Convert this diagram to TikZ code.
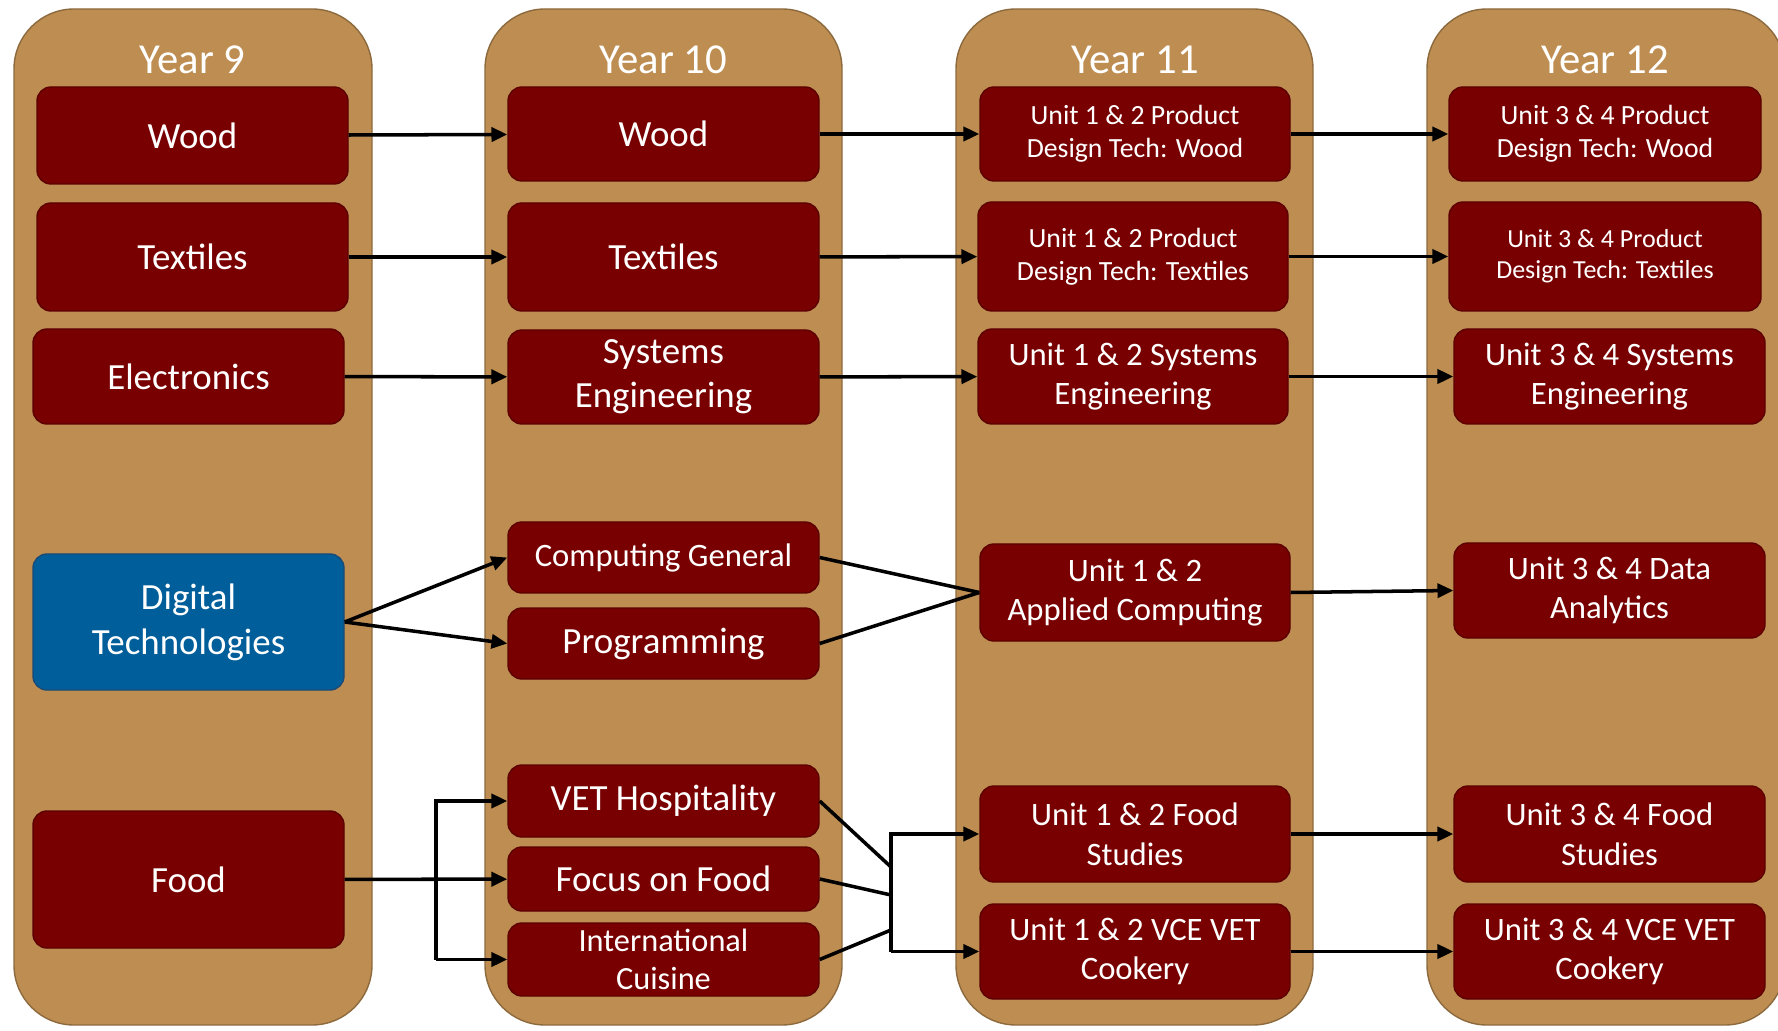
\documentclass[tikz,border=0pt]{standalone}
\usepackage{fontspec}
\setmainfont{Carlito}
\usepackage{tikz}
\usetikzlibrary{arrows.meta}

\definecolor{yearbg}{RGB}{190,141,82}
\definecolor{yearedge}{RGB}{140,106,62}
\definecolor{subj}{RGB}{120,0,0}
\definecolor{subjedge}{RGB}{92,0,0}
\definecolor{digi}{RGB}{0,94,154}
\definecolor{digiedge}{RGB}{26,74,118}

\tikzset{
  yearcol/.style={fill=yearbg, draw=yearedge, line width=0.8pt, rounded corners=1.2cm},
  yeartitle/.style={text=white, font=\fontsize{24.3}{28}\selectfont, anchor=base},
  subject/.style={draw=subjedge, fill=subj, line width=0.8pt, rounded corners=0.28cm,
    text=white, align=center, inner sep=0pt, minimum width=6.22cm},
  bigtext/.style={font=\fontsize{21}{25}\selectfont},
  midtext/.style={font=\fontsize{18.6}{22.6}\selectfont},
  smalltext/.style={font=\fontsize{15.8}{19}\selectfont},
  link/.style={line width=2pt},
  arr/.style={link, -{Triangle[length=9pt,width=8pt]}},
}

\begin{document}
\begin{tikzpicture}
\useasboundingbox (0,0) rectangle (35.56,20.6);
\clip (0,0) rectangle (35.56,20.6);

\draw[yearcol] (0.28,0.10) rectangle (7.44,20.42);
\draw[yearcol] (9.70,0.10) rectangle (16.84,20.42);
\draw[yearcol] (19.12,0.10) rectangle (26.26,20.42);
\draw[yearcol] (28.54,0.10) rectangle (35.70,20.42);

\node[yeartitle] (y9) at (3.85,19.12) {Year 9};
\node[yeartitle] (y10) at (13.27,19.12) {Year 10};
\node[yeartitle] (y11) at (22.70,19.12) {Year 11};
\node[yeartitle] (y12) at (32.10,19.12) {Year 12};

% year 9
\node[subject, bigtext, minimum height=1.94cm] (wood9) at (3.85,17.89) {Wood};
\node[subject, bigtext, minimum height=2.16cm] (tex9) at (3.85,15.46) {Textiles};
\node[subject, bigtext, minimum height=1.90cm] (elec9) at (3.77,13.07) {Electronics};
\node[subject, minimum height=2.72cm, fill=digi, draw=digiedge,
  font=\fontsize{21}{25.5}\selectfont] (digi9) at (3.77,8.16) {Digital\\Technologies};
\node[subject, bigtext, minimum height=2.74cm] (food9) at (3.77,3.01) {Food};

% year 10
\node[subject, bigtext, minimum height=1.88cm] (wood10) at (13.27,17.92) {Wood};
\node[subject, bigtext, minimum height=2.16cm] (tex10) at (13.27,15.46) {Textiles};
\node[subject, bigtext, minimum height=1.88cm] (sys10) at (13.27,13.06) {Systems\\Engineering};
\node[subject, font=\fontsize{18.6}{22}\selectfont, minimum height=1.42cm] (comp10) at (13.27,9.45) {Computing General};
\node[subject, bigtext, minimum height=1.42cm] (prog10) at (13.27,7.73) {Programming};
\node[subject, bigtext, minimum height=1.44cm] (vet10) at (13.27,4.58) {VET Hospitality};
\node[subject, bigtext, minimum height=1.28cm] (focus10) at (13.27,3.02) {Focus on Food};
\node[subject, font=\fontsize{18.4}{22}\selectfont, minimum height=1.46cm] (intl10) at (13.27,1.41) {International\\Cuisine};

% year 11
\node[subject, smalltext, minimum width=6.20cm, minimum height=1.88cm] (wood11) at (22.70,17.92) {Unit 1 \& 2 Product\\Design Tech: Wood};
\node[subject, smalltext, minimum width=6.20cm, minimum height=2.18cm] (tex11) at (22.66,15.47) {Unit 1 \& 2 Product\\Design Tech: Textiles};
\node[subject, midtext, minimum width=6.20cm, minimum height=1.90cm] (sys11) at (22.66,13.07) {Unit 1 \& 2 Systems\\Engineering};
\node[subject, midtext, minimum width=6.20cm, minimum height=1.94cm] (appl11) at (22.70,8.75) {Unit 1 \& 2\\Applied Computing};
\node[subject, midtext, minimum width=6.20cm, minimum height=1.92cm] (fstud11) at (22.70,3.92) {Unit 1 \& 2 Food\\Studies};
\node[subject, midtext, minimum width=6.20cm, minimum height=1.90cm] (cook11) at (22.70,1.57) {Unit 1 \& 2 VCE VET\\Cookery};

% year 12
\node[subject, smalltext, minimum width=6.24cm, minimum height=1.88cm] (wood12) at (32.10,17.92) {Unit 3 \& 4 Product\\Design Tech: Wood};
\node[subject, font=\fontsize{14.8}{17.6}\selectfont, minimum width=6.24cm, minimum height=2.18cm] (tex12) at (32.10,15.47) {Unit 3 \& 4 Product\\Design Tech: Textiles};
\node[subject, midtext, minimum height=1.90cm] (sys12) at (32.19,13.07) {Unit 3 \& 4 Systems\\Engineering};
\node[subject, midtext, minimum height=1.90cm] (data12) at (32.19,8.79) {Unit 3 \& 4 Data\\Analytics};
\node[subject, midtext, minimum height=1.92cm] (fstud12) at (32.19,3.92) {Unit 3 \& 4 Food\\Studies};
\node[subject, midtext, minimum height=1.90cm] (cook12) at (32.19,1.57) {Unit 3 \& 4 VCE VET\\Cookery};

% year 9 -> year 10
\draw[arr] (wood9) -- (wood10);
\draw[arr] (tex9) -- (tex10);
\draw[arr] (elec9) -- (sys10);
\draw[arr] (digi9.east) -- (comp10.west);
\draw[arr] (digi9.east) -- (prog10.west);
\coordinate (fsplit) at (8.72,3.0);
\draw[arr] (food9) -- (focus10);
\draw[arr] (fsplit |- intl10) -- (fsplit |- vet10) -- (vet10);
\draw[arr] (fsplit |- intl10) -- (intl10);

% year 10 -> year 11
\draw[arr] (wood10) -- (wood11);
\draw[arr] (tex10) -- (tex11);
\draw[arr] (sys10) -- (sys11);
\draw[link] (comp10.east) -- (appl11.west);
\draw[link] (prog10.east) -- (appl11.west);
\coordinate (fmerge) at (17.82,3.0);
\coordinate (mvet) at (17.82,3.26);
\coordinate (mfocus) at (17.82,2.70);
\coordinate (mintl) at (17.82,2.00);
\draw[link] (vet10.east) -- (mvet);
\draw[link] (focus10.east) -- (mfocus);
\draw[link] (intl10.east) -- (mintl);
\draw[arr] (fmerge |- cook11) -- (fmerge |- fstud11) -- (fstud11);
\draw[arr] (fmerge |- cook11) -- (cook11);

% year 11 -> year 12
\draw[arr] (wood11) -- (wood12);
\draw[arr] (tex11) -- (tex12);
\draw[arr] (sys11) -- (sys12);
\draw[arr] (appl11.east) -- (data12.west);
\draw[arr] (fstud11) -- (fstud12);
\draw[arr] (cook11) -- (cook12);
\end{tikzpicture}
\end{document}
